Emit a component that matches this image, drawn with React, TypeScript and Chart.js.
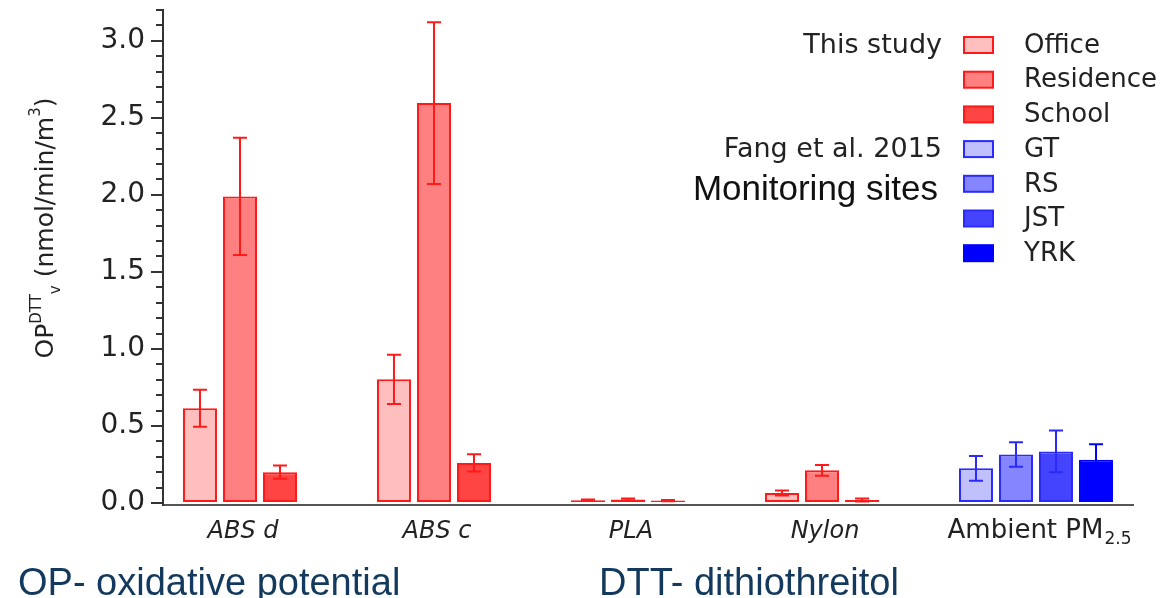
import React, { useEffect, useRef } from 'react';
import { Chart, registerables } from 'chart.js';

Chart.register(...registerables);

// ---------- data ----------
const CATEGORIES = ['ABS d', 'ABS c', 'PLA', 'Nylon', 'Ambient PM2.5'];
const ITALIC_CATEGORY = [true, true, true, true, false];

const OFFICE = [0.615, 0.803, 0.018, 0.065, null];
const OFFICE_ERR = [0.12, 0.16, 0.004, 0.016, null];
const RESIDENCE = [1.99, 2.596, 0.022, 0.212, null];
const RESIDENCE_ERR = [0.38, 0.525, 0.008, 0.035, null];
const SCHOOL = [0.2, 0.26, 0.016, 0.02, null];
const SCHOOL_ERR = [0.043, 0.056, 0.004, 0.01, null];
const GT = [null, null, null, null, 0.225];
const GT_ERR = [null, null, null, null, 0.08];
const RS = [null, null, null, null, 0.315];
const RS_ERR = [null, null, null, null, 0.08];
const JST = [null, null, null, null, 0.335];
const JST_ERR = [null, null, null, null, 0.135];
const YRK = [null, null, null, null, 0.28];
const YRK_ERR = [null, null, null, null, 0.102];

const Y_TICKS = [0, 0.5, 1.0, 1.5, 2.0, 2.5, 3.0];
const Y_MINOR_TICKS = [
  0.1, 0.2, 0.3, 0.4, 0.6, 0.7, 0.8, 0.9, 1.1, 1.2, 1.3, 1.4, 1.6, 1.7, 1.8, 1.9,
  2.1, 2.2, 2.3, 2.4, 2.6, 2.7, 2.8, 2.9, 3.1, 3.2,
];
const Y_MIN = -0.013;
const Y_MAX = 3.2;

const LEGEND_GROUPS = ['This study', 'Fang et al. 2015', 'Monitoring sites'];
const BOTTOM_NOTES = ['OP- oxidative potential', 'DTT- dithiothreitol'];

const FONT = '"DejaVu Sans", Verdana, sans-serif';
const FONT2 = '"Liberation Sans", Arial, sans-serif';
const TEXT = '#222';

// ---------- plugins ----------
const errorBarsPlugin = {
  id: 'errorBars',
  afterDatasetsDraw(chart: any) {
    const ctx = chart.ctx;
    const y = chart.scales.y;
    chart.data.datasets.forEach((ds: any, di: number) => {
      const meta = chart.getDatasetMeta(di);
      ds.data.forEach((v: any, i: number) => {
        const e = ds.errors ? ds.errors[i] : null;
        if (v == null || e == null) return;
        const el = meta.data[i];
        if (!el) return;
        const x = el.x;
        const top = y.getPixelForValue(v + e);
        const bot = y.getPixelForValue(Math.max(0, v - e));
        ctx.save();
        ctx.strokeStyle = ds.errorColor || ds.borderColor;
        ctx.lineWidth = 2;
        ctx.beginPath();
        ctx.moveTo(x, top);
        ctx.lineTo(x, bot);
        ctx.moveTo(x - 7, top);
        ctx.lineTo(x + 7, top);
        ctx.moveTo(x - 7, bot);
        ctx.lineTo(x + 7, bot);
        ctx.stroke();
        ctx.restore();
      });
    });
  },
};

const decorPlugin = {
  id: 'decor',
  afterDraw(chart: any) {
    const ctx = chart.ctx;
    const y = chart.scales.y;
    const area = chart.chartArea;

    // minor ticks
    ctx.save();
    ctx.strokeStyle = '#333';
    ctx.lineWidth = 2;
    ctx.beginPath();
    Y_MINOR_TICKS.forEach((v) => {
      const py = Math.round(y.getPixelForValue(v));
      ctx.moveTo(area.left - 7, py);
      ctx.lineTo(area.left, py);
    });
    ctx.stroke();
    ctx.restore();

    // x category labels centred under the drawn bars of each category
    CATEGORIES.forEach((label, i) => {
      const xs: number[] = [];
      chart.data.datasets.forEach((ds: any, di: number) => {
        if (ds.data[i] == null) return;
        const el = chart.getDatasetMeta(di).data[i];
        if (el) xs.push(el.x);
      });
      if (!xs.length) return;
      const cx = xs.reduce((a, b) => a + b, 0) / xs.length + 3;
      const baseY = 538;
      ctx.save();
      ctx.fillStyle = TEXT;
      ctx.textBaseline = 'alphabetic';
      const m = label.match(/^(.*?PM)(\d+(?:\.\d+)?)$/);
      if (m) {
        ctx.font = `26px ${FONT}`;
        const w1 = ctx.measureText(m[1]).width;
        ctx.font = `17px ${FONT}`;
        const w2 = ctx.measureText(m[2]).width;
        const start = cx - (w1 + w2) / 2;
        ctx.font = `26px ${FONT}`;
        ctx.textAlign = 'left';
        ctx.fillText(m[1], start, baseY);
        ctx.font = `17px ${FONT}`;
        ctx.fillText(m[2], start + w1 + 1, baseY + 6);
      } else {
        ctx.font = `${ITALIC_CATEGORY[i] ? 'italic ' : ''}24px ${FONT}`;
        ctx.textAlign = 'center';
        ctx.fillText(label, cx, baseY);
      }
      ctx.restore();
    });

    // y-axis title with super/subscripts
    const parts = [
      { t: 'OP', s: 25, dy: 0 },
      { t: 'DTT', s: 15, dy: -12 },
      { t: 'v', s: 15, dy: 7 },
      { t: ' (nmol/min/m', s: 25, dy: 0 },
      { t: '3', s: 15, dy: -13 },
      { t: ')', s: 25, dy: 0 },
    ];
    ctx.save();
    let total = 0;
    parts.forEach((p) => {
      ctx.font = `${p.s}px ${FONT}`;
      total += ctx.measureText(p.t).width;
    });
    ctx.translate(53, 228 + total / 2);
    ctx.rotate(-Math.PI / 2);
    ctx.fillStyle = TEXT;
    ctx.textBaseline = 'alphabetic';
    ctx.textAlign = 'left';
    let px = 0;
    parts.forEach((p) => {
      ctx.font = `${p.s}px ${FONT}`;
      ctx.fillText(p.t, px, p.dy);
      px += ctx.measureText(p.t).width;
    });
    ctx.restore();

    // legend
    const rowY0 = 45;
    const rowH = 34.7;
    ctx.save();
    chart.data.datasets.forEach((ds: any, di: number) => {
      const cy = rowY0 + di * rowH;
      ctx.fillStyle = ds.backgroundColor;
      ctx.fillRect(964, cy - 8, 29, 16);
      ctx.strokeStyle = ds.borderColor;
      ctx.lineWidth = 2;
      ctx.strokeRect(964, cy - 8, 29, 16);
      ctx.fillStyle = TEXT;
      ctx.font = `26px ${FONT}`;
      ctx.textAlign = 'left';
      ctx.textBaseline = 'middle';
      ctx.fillText(ds.label, 1024, cy + 1);
    });
    ctx.textAlign = 'right';
    ctx.textBaseline = 'middle';
    ctx.fillStyle = TEXT;
    ctx.font = `27px ${FONT}`;
    ctx.fillText(LEGEND_GROUPS[0], 942, rowY0 + 1);
    ctx.fillText(LEGEND_GROUPS[1], 942, rowY0 + 3 * rowH + 1);
    ctx.fillStyle = '#111';
    ctx.font = `35px ${FONT2}`;
    ctx.fillText(LEGEND_GROUPS[2], 938, 190);
    ctx.restore();

    // bottom notes
    ctx.save();
    ctx.fillStyle = '#133a5e';
    ctx.font = `38px ${FONT2}`;
    ctx.textAlign = 'left';
    ctx.textBaseline = 'alphabetic';
    ctx.fillText(BOTTOM_NOTES[0], 18, 595);
    ctx.fillText(BOTTOM_NOTES[1], 599, 595);
    ctx.restore();
  },
};

export default function App() {
  const ref = useRef<HTMLCanvasElement | null>(null);

  useEffect(() => {
    if (!ref.current) return;
    const mk = (label: string, data: any[], errors: any[], bg: string, border: string, stack: string) => ({
      label,
      data,
      errors,
      backgroundColor: bg,
      borderColor: border,
      borderWidth: 2,
      borderSkipped: false,
      stack,
      barPercentage: 0.85,
      categoryPercentage: 0.825,
    });
    const chart = new Chart(ref.current, {
      type: 'bar',
      data: {
        labels: CATEGORIES,
        datasets: [
          mk('Office', OFFICE, OFFICE_ERR, '#ffbfbf', '#ff1a1a', 's1'),
          mk('Residence', RESIDENCE, RESIDENCE_ERR, '#ff8080', '#ff1a1a', 's2'),
          mk('School', SCHOOL, SCHOOL_ERR, '#ff4444', '#ff1a1a', 's3'),
          mk('GT', GT, GT_ERR, '#c0c0ff', '#2a2aff', 's1'),
          mk('RS', RS, RS_ERR, '#8585ff', '#2a2aff', 's2'),
          mk('JST', JST, JST_ERR, '#4444ff', '#2a2aff', 's3'),
          mk('YRK', YRK, YRK_ERR, '#0000ff', '#0000ff', 's4'),
        ] as any,
      },
      options: {
        animation: false,
        responsive: false,
        devicePixelRatio: 1,
        layout: { padding: { left: 0, right: 30, top: 10, bottom: 0 } },
        plugins: {
          legend: { display: false },
          tooltip: { enabled: false },
          title: { display: false },
        },
        scales: {
          x: {
            type: 'category',
            offset: true,
            grid: { display: false },
            border: { display: true, color: '#555', width: 2 },
            ticks: { display: false },
            afterFit: (s: any) => {
              s.height = 93;
              s.paddingLeft = 0;
              s.paddingRight = 0;
            },
          },
          y: {
            type: 'linear',
            min: Y_MIN,
            max: Y_MAX,
            afterBuildTicks: (s: any) => {
              s.ticks = Y_TICKS.map((v) => ({ value: v }));
            },
            grid: {
              display: true,
              drawOnChartArea: false,
              drawTicks: true,
              tickLength: 12,
              tickColor: '#333',
              lineWidth: 2,
            },
            border: { display: true, color: '#333', width: 2 },
            ticks: {
              color: TEXT,
              font: { family: FONT, size: 28 },
              padding: 6,
              callback: (v: any) => Number(v).toFixed(1),
            },
            afterFit: (s: any) => {
              s.width = 163;
              s.paddingTop = 0;
              s.paddingBottom = 0;
            },
          },
        },
      } as any,
      plugins: [errorBarsPlugin, decorPlugin],
    });
    return () => chart.destroy();
  }, []);

  return (
    <div style={{ position: 'absolute', left: 0, top: 0, width: 1163, height: 598, background: '#fff' }}>
      <canvas ref={ref} width={1163} height={598} style={{ display: 'block' }} />
    </div>
  );
}
